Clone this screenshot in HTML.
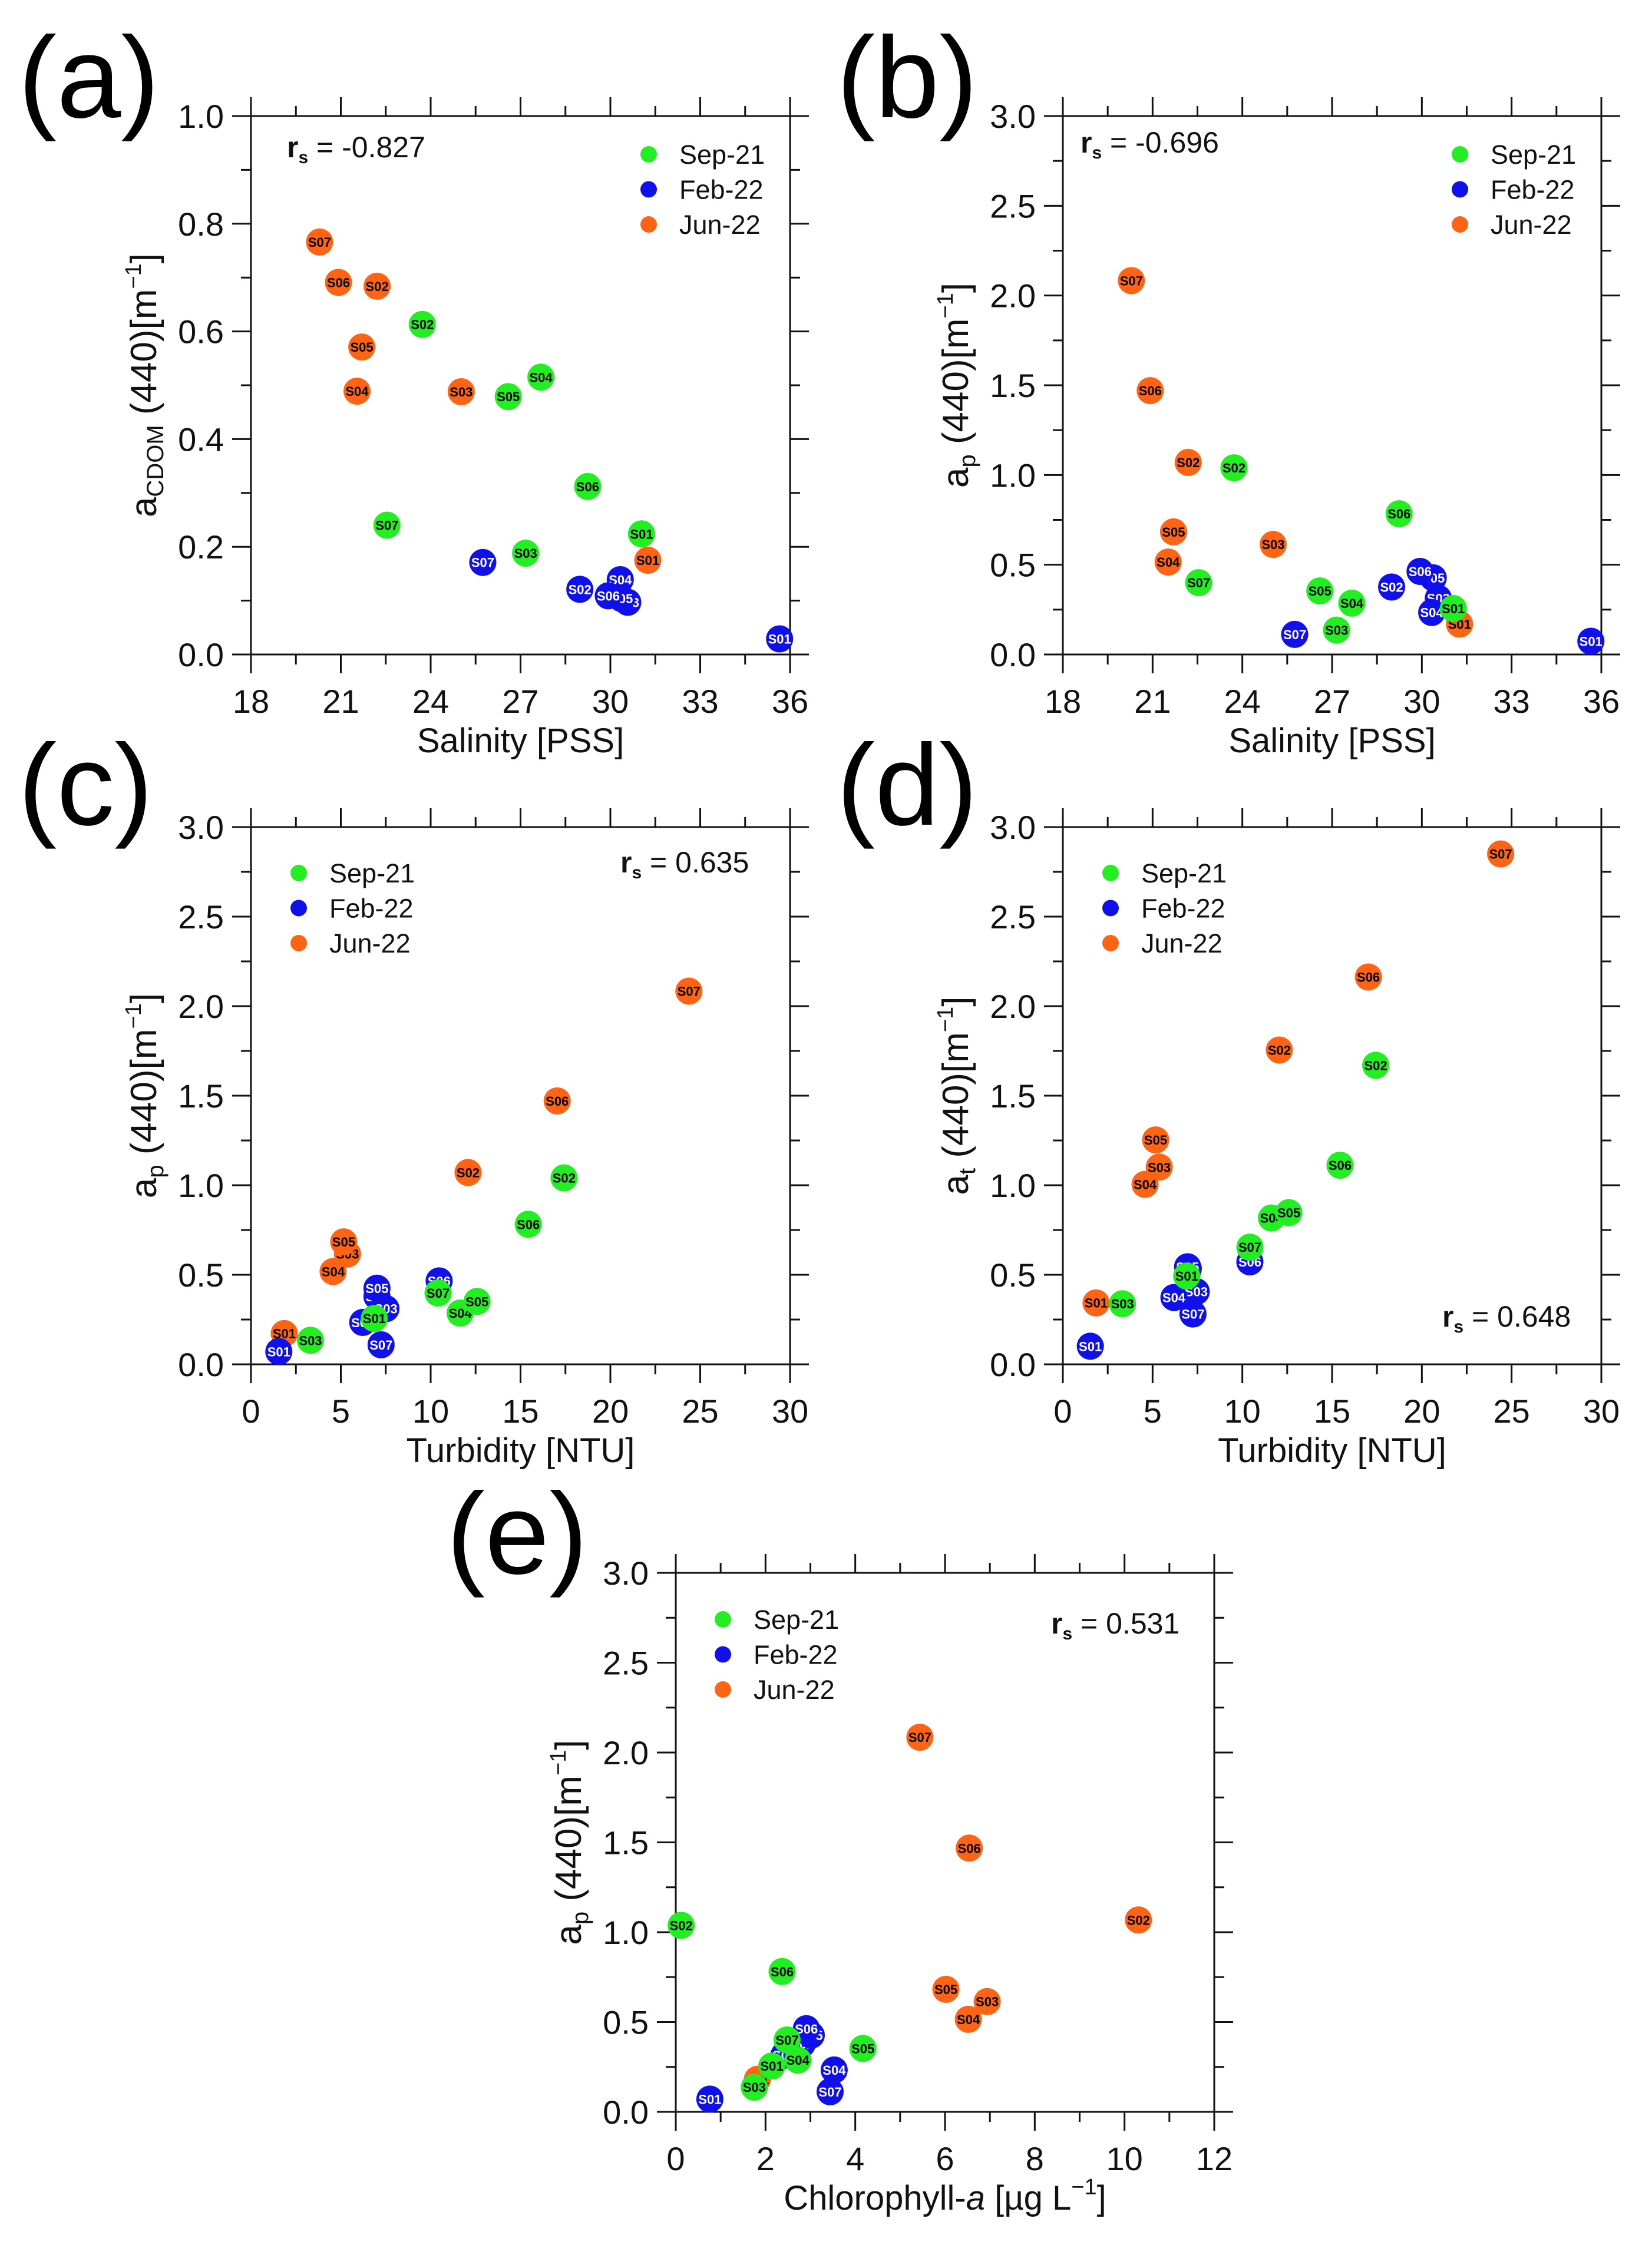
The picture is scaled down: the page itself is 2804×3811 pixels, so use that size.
<!DOCTYPE html>
<html><head><meta charset="utf-8"><style>
html,body{margin:0;padding:0;background:#fff;}
svg{display:block;font-family:"Liberation Sans",Arial,sans-serif;}
</style></head><body>
<svg id="fig" width="2804" height="3811" viewBox="0 0 2804 3811" xmlns="http://www.w3.org/2000/svg"></svg>
<script>
const NS='http://www.w3.org/2000/svg';
const C_SEP='#22ee22', C_FEB='#1010ea', C_JUN='#ff6414';
const stations=['S01','S02','S03','S04','S05','S06','S07'];
// Panel a: salinity vs aCDOM
const aSepX=[31.04,23.72,27.17,27.68,26.59,29.24,22.54];
const aSepY=[0.224,0.613,0.188,0.515,0.479,0.312,0.240];
const aFebX=[35.65,28.98,30.58,30.33,30.37,29.93,25.74];
const aFebY=[0.029,0.121,0.097,0.139,0.104,0.109,0.171];
const aJunX=[31.25,22.21,25.02,21.54,21.70,20.92,20.29];
const aJunY=[0.175,0.684,0.488,0.489,0.571,0.691,0.766];
// Panel b: salinity vs ap
const bSepX=[31.05,23.72,27.15,27.66,26.59,29.24,22.54];
const bSepY=[0.256,1.040,0.136,0.286,0.354,0.784,0.400];
const bFebX=[35.65,28.99,30.55,30.33,30.38,29.94,25.75];
const bFebY=[0.074,0.376,0.313,0.234,0.427,0.463,0.112];
const bJunX=[31.26,22.19,25.03,21.52,21.70,20.92,20.29];
const bJunY=[0.169,1.070,0.613,0.515,0.683,1.470,2.083];
// Panel c: turbidity vs ap
const cSepX=[6.86,17.42,3.31,11.64,12.58,15.43,10.41];
const cSepY=[0.256,1.041,0.134,0.286,0.351,0.782,0.398];
const cFebX=[1.55,7.01,7.51,6.22,7.01,10.47,7.24];
const cFebY=[0.071,0.379,0.311,0.234,0.425,0.466,0.109];
const cJunX=[1.85,12.08,5.37,4.57,5.16,17.04,24.37];
const cJunY=[0.172,1.071,0.616,0.518,0.684,1.471,2.084];
// Panel d: turbidity vs at
const dSepX=[6.90,17.43,3.32,11.62,12.59,15.44,10.42];
const dSepY=[0.493,1.670,0.338,0.817,0.847,1.112,0.654];
const dFebX=[1.53,6.99,7.43,6.19,6.95,10.42,7.25];
const dFebY=[0.101,0.534,0.406,0.373,0.545,0.572,0.281];
const dJunX=[1.85,12.06,5.37,4.58,5.17,17.02,24.39];
const dJunY=[0.343,1.755,1.101,1.005,1.253,2.163,2.850];
// Panel e: chlorophyll vs ap
const eSepX=[2.14,0.12,1.75,2.72,4.17,2.37,2.48];
const eSepY=[0.255,1.038,0.137,0.288,0.353,0.781,0.400];
const eFebX=[0.76,2.82,2.41,3.53,3.02,2.91,3.44];
const eFebY=[0.071,0.378,0.315,0.233,0.427,0.463,0.112];
const eJunX=[1.82,10.31,6.94,6.52,6.02,6.54,5.44];
const eJunY=[0.181,1.068,0.614,0.515,0.682,1.468,2.085];
// tick labels
const salTicks=['18','21','24','27','30','33','36'];
const turbTicks=['0','5','10','15','20','25','30'];
const chlTicks=['0','2','4','6','8','10','12'];
const aYTicks=['0.0','0.2','0.4','0.6','0.8','1.0'];
const apYTicks=['0.0','0.5','1.0','1.5','2.0','2.5','3.0'];

const svg=document.getElementById('fig');
function el(tag,attrs,parent,text){const e=document.createElementNS(NS,tag);for(const k in attrs)e.setAttribute(k,attrs[k]);if(text!==undefined)e.textContent=text;(parent||svg).appendChild(e);return e;}

function panel(cfg){
  const g=el('g',{});
  
  
  const L=cfg.L,T=cfg.T,W=cfg.W,H=cfg.H,R=L+W,B=T+H;
  const xmin=+cfg.xt[0],xmax=+cfg.xt[cfg.xt.length-1];
  const ymin=+cfg.yt[0],ymax=+cfg.yt[cfg.yt.length-1];
  const sx=v=>L+(v-xmin)/(xmax-xmin)*W;
  const sy=v=>B-(v-ymin)/(ymax-ymin)*H;
  const pl=el('text',{x:cfg.lx,y:cfg.ly,'font-size':196,fill:'#000'},g,'('+cfg.id+')');
  
  
  const ax=el('g',{stroke:'#111','stroke-width':3,fill:'none'},g);
  
  
  el('line',{x1:L-32,y1:T,x2:R+32,y2:T},ax);
  el('line',{x1:L-32,y1:B,x2:R+32,y2:B},ax);
  el('line',{x1:L,y1:T-32,x2:L,y2:B+32},ax);
  el('line',{x1:R,y1:T-32,x2:R,y2:B+32},ax);
  const nx=cfg.xt.length-1;
  for(let i=0;i<nx;i++){
    const mv=xmin+(i+0.5)*(xmax-xmin)/nx, x=sx(mv);
    el('line',{x1:x,y1:B,x2:x,y2:B+17},ax);
    el('line',{x1:x,y1:T,x2:x,y2:T-17},ax);
  }
  cfg.xt.forEach(t=>{
    const x=sx(+t);
    el('line',{x1:x,y1:B,x2:x,y2:B+32},ax);
    el('line',{x1:x,y1:T,x2:x,y2:T-32},ax);
    const tl=el('text',{x:x,y:B+99,'font-size':56,'text-anchor':'middle',fill:'#111',stroke:'none'},g,t);
    
    
  });
  const ny=cfg.yt.length-1;
  for(let i=0;i<ny;i++){
    const mv=ymin+(i+0.5)*(ymax-ymin)/ny, y=sy(mv);
    el('line',{x1:L,y1:y,x2:L-17,y2:y},ax);
    el('line',{x1:R,y1:y,x2:R+17,y2:y},ax);
  }
  cfg.yt.forEach(t=>{
    const y=sy(+t);
    el('line',{x1:L,y1:y,x2:L-32,y2:y},ax);
    el('line',{x1:R,y1:y,x2:R+32,y2:y},ax);
    const tl=el('text',{x:L-46,y:y+20,'font-size':56,'text-anchor':'end',fill:'#111'},g,t);
    
    
  });
  const xt=el('text',{x:L+W/2,y:B+166,'font-size':58,'text-anchor':'middle',fill:'#111'},g);
  
  
  xt.innerHTML=cfg.xtitle;
  const yt=el('text',{transform:`translate(${L-161},${T+H/2}) rotate(-90)`,'font-size':62,'text-anchor':'middle',fill:'#111'},g);
  
  
  yt.innerHTML=cfg.ytitle;
  const series=[['jun-22',cfg.jx,cfg.jy,C_JUN,'#000'],['feb-22',cfg.fx,cfg.fy,C_FEB,'#fff'],['sep-21',cfg.sx_,cfg.sy_,C_SEP,'#000']];
  series.forEach(s=>{
    const sg=el('g',{},g);
    
    
    s[1].forEach((xv,i)=>{
      const cx=sx(xv),cy=sy(s[2][i]);
      const pg=el('g',{},sg);
      
      
      el('circle',{cx:cx,cy:cy,r:23,fill:s[3]},pg);
      el('text',{x:cx,y:cy+8,'font-size':22,'font-weight':'bold','text-anchor':'middle',fill:s[4]},pg,stations[i]);
    });
  });
  const lg=el('g',{},g);
  
  
  [['Sep-21',C_SEP],['Feb-22',C_FEB],['Jun-22',C_JUN]].forEach((e,i)=>{
    const eg=el('g',{},lg);
    
    
    const cy=T+cfg.legY+i*59.5;
    el('circle',{cx:L+cfg.legX,cy:cy,r:14,fill:e[1]},eg);
    el('text',{x:L+cfg.legX+52,y:cy+16,'font-size':45,fill:'#111'},eg,e[0]);
  });
  const rs=el('text',{x:L+cfg.rx,y:cfg.ry,'font-size':50,fill:'#111'},g);
  
  
  rs.innerHTML=`<tspan font-weight="bold">r</tspan><tspan font-weight="bold" font-size="30" dy="10">s</tspan><tspan dy="-10"> = ${cfg.rs}</tspan>`;
}
const mInv='[m<tspan font-size="38" dy="-26">−1</tspan><tspan dy="26">]</tspan>';
panel({id:'a',L:426,T:197,W:915,H:914,xt:salTicks,yt:aYTicks,lx:31,ly:199,
  xtitle:'Salinity [PSS]',ytitle:'a<tspan font-size="40" dy="12">CDOM</tspan><tspan dy="-12"> (440)</tspan>'+mInv,
  sx_:aSepX,sy_:aSepY,fx:aFebX,fy:aFebY,jx:aJunX,jy:aJunY,legX:675,legY:65,rx:61,ry:267,rs:'-0.827'});
panel({id:'b',L:1804,T:197,W:914,H:914,xt:salTicks,yt:apYTicks,lx:1420,ly:199,
  xtitle:'Salinity [PSS]',ytitle:'a<tspan font-size="40" dy="12">p</tspan><tspan dy="-12"> (440)</tspan>'+mInv,
  sx_:bSepX,sy_:bSepY,fx:bFebX,fy:bFebY,jx:bJunX,jy:bJunY,legX:674,legY:65,rx:30,ry:259,rs:'-0.696'});
panel({id:'c',L:426,T:1404,W:915,H:912,xt:turbTicks,yt:apYTicks,lx:31,ly:1400,
  xtitle:'Turbidity [NTU]',ytitle:'a<tspan font-size="40" dy="12">p</tspan><tspan dy="-12"> (440)</tspan>'+mInv,
  sx_:cSepX,sy_:cSepY,fx:cFebX,fy:cFebY,jx:cJunX,jy:cJunY,legX:81,legY:78,rx:627,ry:1481,rs:'0.635'});
panel({id:'d',L:1804,T:1404,W:914,H:912,xt:turbTicks,yt:apYTicks,lx:1420,ly:1400,
  xtitle:'Turbidity [NTU]',ytitle:'a<tspan font-size="40" dy="12">t</tspan><tspan dy="-12"> (440)</tspan>'+mInv,
  sx_:dSepX,sy_:dSepY,fx:dFebX,fy:dFebY,jx:dJunX,jy:dJunY,legX:81,legY:78,rx:644,ry:2252,rs:'0.648'});
panel({id:'e',L:1147,T:2670,W:914,H:915,xt:chlTicks,yt:apYTicks,lx:758,ly:2671,
  xtitle:'Chlorophyll-<tspan font-style="italic">a</tspan> [µg L<tspan font-size="38" dy="-26">−1</tspan><tspan dy="26">]</tspan>',ytitle:'a<tspan font-size="40" dy="12">p</tspan><tspan dy="-12"> (440)</tspan>'+mInv,
  sx_:eSepX,sy_:eSepY,fx:eFebX,fy:eFebY,jx:eJunX,jy:eJunY,legX:80,legY:79,rx:637,ry:2773,rs:'0.531'});
</script>
</body></html>
